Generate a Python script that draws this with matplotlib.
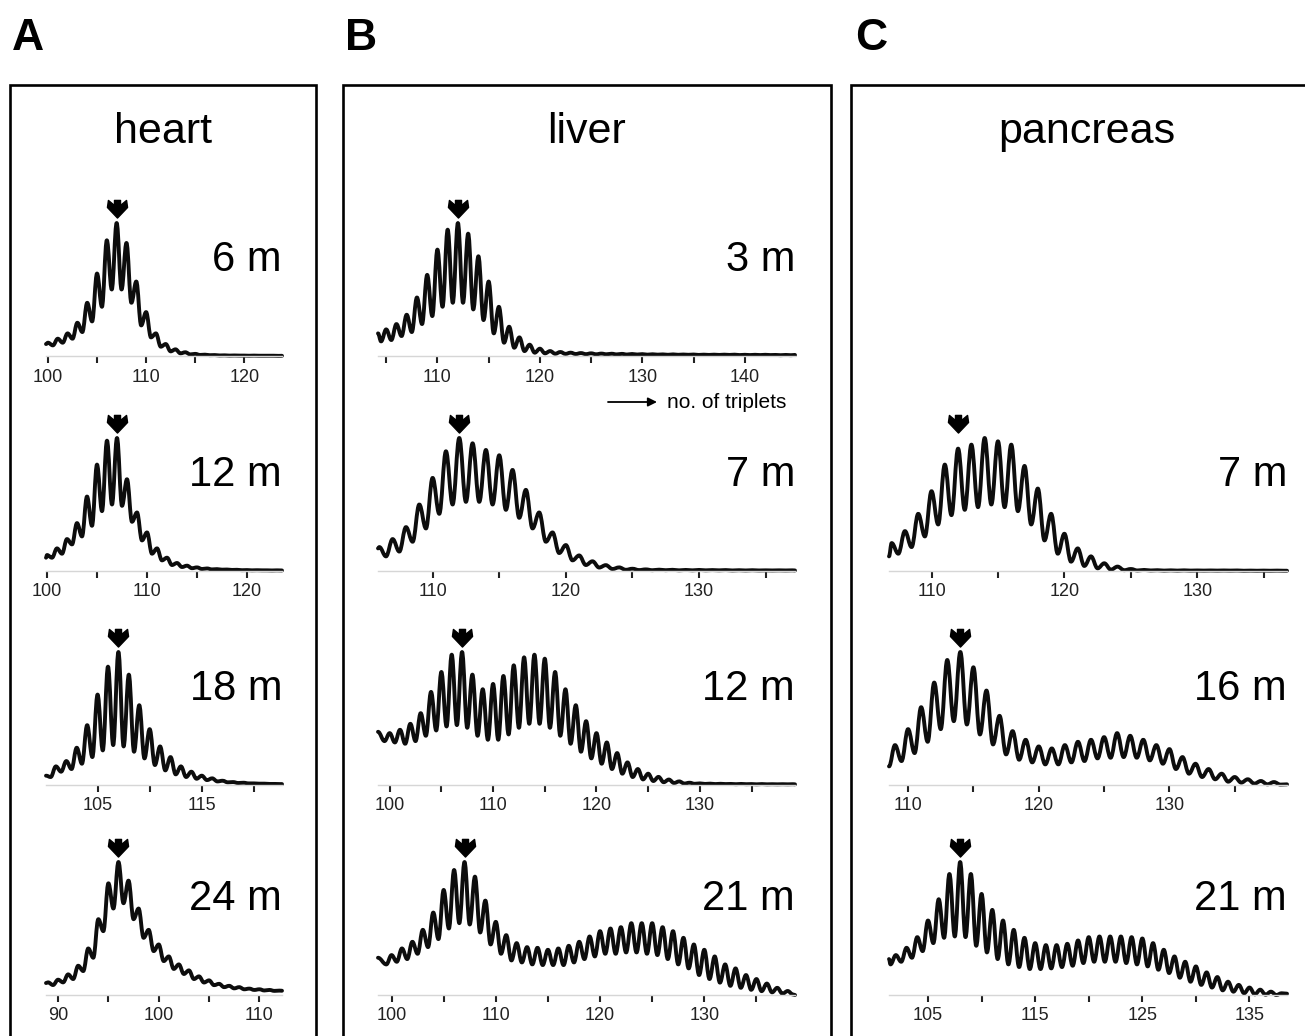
import matplotlib
matplotlib.use("Agg")
import matplotlib.pyplot as plt
from matplotlib.path import Path
from matplotlib.patches import PathPatch, Rectangle

plt.rcParams['font.family'] = ['Liberation Sans', 'DejaVu Sans']

# ---------------- data (relative peak heights) ----------------
# peaks at integer repeat numbers starting at *_P0; troughs at half-integers starting at *_P0 - 0.5
HEART_6M_P0 = 100
HEART_6M_PEAKS = [0.10, 0.13, 0.17, 0.25, 0.40, 0.62, 0.87, 1.00, 0.85, 0.56, 0.33, 0.17, 0.09, 0.05,
                  0.028, 0.016, 0.010, 0.007, 0.005, 0.004, 0.003, 0.003, 0.002, 0.002]
HEART_6M_TROUGHS = [0.07, 0.08, 0.10, 0.13, 0.18, 0.26, 0.37, 0.50, 0.50, 0.40, 0.23, 0.14, 0.07, 0.035,
                    0.020, 0.012, 0.008, 0.006, 0.004, 0.003, 0.003, 0.002, 0.002, 0.002, 0.001]

HEART_12M_P0 = 100
HEART_12M_PEAKS = [0.12, 0.17, 0.24, 0.36, 0.56, 0.80, 0.98, 1.00, 0.69, 0.44, 0.29, 0.17, 0.10, 0.06,
                   0.04, 0.027, 0.019, 0.014, 0.011, 0.009, 0.007, 0.006, 0.005, 0.005]
HEART_12M_TROUGHS = [0.09, 0.10, 0.13, 0.20, 0.26, 0.34, 0.45, 0.50, 0.49, 0.37, 0.23, 0.13, 0.08, 0.045,
                     0.030, 0.021, 0.015, 0.012, 0.010, 0.008, 0.006, 0.005, 0.005, 0.004, 0.004]

HEART_18M_P0 = 101
HEART_18M_PEAKS = [0.14, 0.18, 0.28, 0.45, 0.68, 0.89, 1.00, 0.83, 0.60, 0.42, 0.29, 0.21, 0.14, 0.10,
                   0.07, 0.05, 0.032, 0.022, 0.017, 0.012, 0.010, 0.008]
HEART_18M_TROUGHS = [0.06, 0.10, 0.12, 0.16, 0.21, 0.26, 0.30, 0.29, 0.25, 0.20, 0.15, 0.11, 0.08, 0.06,
                     0.047, 0.037, 0.027, 0.020, 0.015, 0.012, 0.010, 0.008, 0.007]

HEART_24M_P0 = 89
HEART_24M_PEAKS = [0.095, 0.115, 0.155, 0.22, 0.35, 0.57, 0.84, 1.00, 0.86, 0.65, 0.49, 0.38, 0.29, 0.23,
                   0.185, 0.14, 0.11, 0.084, 0.069, 0.059, 0.048, 0.043, 0.038, 0.033]
HEART_24M_TROUGHS = [0.08, 0.075, 0.095, 0.12, 0.18, 0.28, 0.48, 0.65, 0.69, 0.57, 0.43, 0.33, 0.255,
                     0.196, 0.158, 0.12, 0.094, 0.074, 0.059, 0.050, 0.043, 0.038, 0.034, 0.031, 0.030]

LIVER_3M_P0 = 105
LIVER_3M_PEAKS = [0.20, 0.24, 0.31, 0.44, 0.61, 0.80, 0.95, 1.00, 0.92, 0.75, 0.56, 0.37, 0.22, 0.14,
                  0.085, 0.055, 0.037, 0.030, 0.025, 0.022, 0.020, 0.018, 0.017, 0.016, 0.015, 0.014,
                  0.013, 0.012, 0.012, 0.011, 0.011, 0.010, 0.010, 0.010, 0.010, 0.009, 0.009, 0.009,
                  0.008, 0.008]
LIVER_3M_TROUGHS = [0.11, 0.12, 0.15, 0.18, 0.24, 0.30, 0.37, 0.40, 0.40, 0.35, 0.27, 0.17, 0.10, 0.062,
                    0.037, 0.025, 0.020, 0.017, 0.016, 0.015, 0.014, 0.013, 0.013, 0.012, 0.011, 0.011,
                    0.010, 0.010, 0.009, 0.009, 0.009, 0.008, 0.008, 0.008, 0.008, 0.007, 0.007, 0.007,
                    0.007, 0.006, 0.006]

LIVER_7M_P0 = 106
LIVER_7M_PEAKS = [0.18, 0.24, 0.33, 0.50, 0.70, 0.90, 1.00, 0.96, 0.91, 0.87, 0.76, 0.61, 0.44, 0.29,
                  0.195, 0.117, 0.073, 0.044, 0.027, 0.017, 0.012, 0.010, 0.009, 0.008, 0.008, 0.007,
                  0.007, 0.006, 0.006, 0.005, 0.005, 0.005]
LIVER_7M_TROUGHS = [0.12, 0.11, 0.146, 0.22, 0.32, 0.43, 0.50, 0.52, 0.52, 0.50, 0.46, 0.40, 0.32, 0.22,
                    0.135, 0.08, 0.045, 0.026, 0.015, 0.009, 0.007, 0.006, 0.006, 0.005, 0.005, 0.005,
                    0.005, 0.004, 0.004, 0.004, 0.004, 0.004, 0.004]

LIVER_12M_P0 = 100
LIVER_12M_PEAKS = [0.39, 0.415, 0.46, 0.54, 0.70, 0.85, 0.98, 1.00, 0.83, 0.72, 0.76, 0.82, 0.90, 0.96,
                   0.98, 0.95, 0.85, 0.72, 0.60, 0.48, 0.39, 0.32, 0.24, 0.17, 0.12, 0.085, 0.061, 0.041,
                   0.027, 0.017, 0.012, 0.010, 0.009, 0.008, 0.008, 0.007, 0.007, 0.006, 0.006, 0.006]
LIVER_12M_TROUGHS = [0.33, 0.32, 0.31, 0.33, 0.37, 0.41, 0.44, 0.45, 0.43, 0.37, 0.34, 0.34, 0.38, 0.43,
                     0.46, 0.46, 0.43, 0.37, 0.31, 0.25, 0.20, 0.16, 0.12, 0.085, 0.06, 0.042, 0.03,
                     0.021, 0.015, 0.011, 0.009, 0.008, 0.007, 0.007, 0.006, 0.006, 0.005, 0.005, 0.005,
                     0.005, 0.005]

LIVER_21M_P0 = 100
LIVER_21M_PEAKS = [0.30, 0.35, 0.40, 0.49, 0.62, 0.79, 0.94, 1.00, 0.89, 0.71, 0.55, 0.45, 0.39, 0.36,
                   0.355, 0.34, 0.35, 0.37, 0.40, 0.44, 0.48, 0.50, 0.51, 0.54, 0.54, 0.54, 0.51, 0.48,
                   0.43, 0.38, 0.34, 0.29, 0.23, 0.20, 0.15, 0.12, 0.086, 0.054, 0.03]
LIVER_21M_TROUGHS = [0.23, 0.25, 0.27, 0.31, 0.36, 0.42, 0.50, 0.54, 0.53, 0.47, 0.38, 0.31, 0.26, 0.245,
                     0.23, 0.225, 0.225, 0.225, 0.245, 0.27, 0.29, 0.31, 0.31, 0.32, 0.32, 0.31, 0.30,
                     0.27, 0.23, 0.20, 0.15, 0.12, 0.093, 0.069, 0.054, 0.039, 0.029, 0.02, 0.01, 0.004]

PANC_7M_P0 = 107
PANC_7M_PEAKS = [0.21, 0.30, 0.43, 0.60, 0.80, 0.92, 0.95, 1.00, 0.975, 0.95, 0.79, 0.62, 0.43, 0.28,
                 0.17, 0.11, 0.058, 0.033, 0.015, 0.008, 0.006, 0.005, 0.005, 0.004, 0.004, 0.004,
                 0.004, 0.003, 0.003, 0.003]
PANC_7M_TROUGHS = [0.10, 0.13, 0.18, 0.26, 0.35, 0.42, 0.46, 0.48, 0.50, 0.48, 0.45, 0.35, 0.23, 0.13,
                   0.07, 0.038, 0.02, 0.01, 0.006, 0.004, 0.004, 0.003, 0.003, 0.003, 0.003, 0.003,
                   0.003, 0.002, 0.002, 0.002, 0.002]

PANC_16M_P0 = 109
PANC_16M_PEAKS = [0.30, 0.42, 0.585, 0.77, 0.94, 1.00, 0.885, 0.71, 0.52, 0.405, 0.34, 0.29, 0.275, 0.30,
                  0.325, 0.34, 0.36, 0.39, 0.37, 0.34, 0.30, 0.27, 0.21, 0.16, 0.12, 0.085, 0.06, 0.043,
                  0.03, 0.022]
PANC_16M_TROUGHS = [0.15, 0.18, 0.24, 0.325, 0.42, 0.48, 0.455, 0.38, 0.305, 0.23, 0.19, 0.17, 0.155,
                    0.155, 0.17, 0.18, 0.20, 0.205, 0.21, 0.205, 0.185, 0.16, 0.12, 0.085, 0.06, 0.043,
                    0.025, 0.018, 0.01, 0.005, 0.003]

PANC_21M_P0 = 102
PANC_21M_PEAKS = [0.30, 0.355, 0.435, 0.56, 0.72, 0.91, 1.00, 0.91, 0.76, 0.64, 0.56, 0.49, 0.43, 0.39,
                  0.375, 0.375, 0.385, 0.41, 0.435, 0.44, 0.44, 0.44, 0.435, 0.425, 0.39, 0.34, 0.29,
                  0.25, 0.215, 0.17, 0.135, 0.10, 0.076, 0.056, 0.04, 0.025, 0.013]
PANC_21M_TROUGHS = [0.23, 0.25, 0.28, 0.33, 0.39, 0.43, 0.44, 0.435, 0.37, 0.32, 0.27, 0.23, 0.21, 0.195,
                    0.195, 0.20, 0.21, 0.22, 0.24, 0.25, 0.25, 0.25, 0.24, 0.23, 0.215, 0.19, 0.165,
                    0.13, 0.10, 0.076, 0.056, 0.035, 0.025, 0.013, 0.005, 0.002, 0.0, 0.0]

TISSUES = ['heart', 'liver', 'pancreas']
PANEL_LETTERS = ['A', 'B', 'C']

# label, row, p0, peaks, troughs, xlim, edge values (left, right), marked peak, ticks, labelled ticks
PANELS = {
    'heart': [
        ('6 m', 0, HEART_6M_P0, HEART_6M_PEAKS, HEART_6M_TROUGHS, (99.8, 123.85), (0.09, 0.0015), 107,
         [100, 105, 110, 115, 120], [100, 110, 120]),
        ('12 m', 1, HEART_12M_P0, HEART_12M_PEAKS, HEART_12M_TROUGHS, (99.9, 123.5), (0.10, 0.004), 107,
         [100, 105, 110, 115, 120], [100, 110, 120]),
        ('18 m', 2, HEART_18M_P0, HEART_18M_PEAKS, HEART_18M_TROUGHS, (100.05, 122.7), (0.07, 0.007), 107,
         [105, 110, 115, 120], [105, 115]),
        ('24 m', 3, HEART_24M_P0, HEART_24M_PEAKS, HEART_24M_TROUGHS, (88.8, 112.25), (0.09, 0.032), 96,
         [90, 95, 100, 105, 110], [90, 100, 110]),
    ],
    'liver': [
        ('3 m', 0, LIVER_3M_P0, LIVER_3M_PEAKS, LIVER_3M_TROUGHS, (104.2, 144.9), (0.17, 0.008), 112,
         [105, 110, 115, 120, 125, 130, 135, 140], [110, 120, 130, 140]),
        ('7 m', 1, LIVER_7M_P0, LIVER_7M_PEAKS, LIVER_7M_TROUGHS, (105.9, 137.2), (0.17, 0.004), 112,
         [110, 115, 120, 125, 130, 135], [110, 120, 130]),
        ('12 m', 2, LIVER_12M_P0, LIVER_12M_PEAKS, LIVER_12M_TROUGHS, (98.87, 139.2), (0.40, 0.005), 107,
         [100, 105, 110, 115, 120, 125, 130, 135], [100, 110, 120, 130]),
        ('21 m', 3, LIVER_21M_P0, LIVER_21M_PEAKS, LIVER_21M_TROUGHS, (98.7, 138.7), (0.28, 0.0), 107,
         [100, 105, 110, 115, 120, 125, 130, 135], [100, 110, 120, 130]),
    ],
    'pancreas': [
        ('7 m', 1, PANC_7M_P0, PANC_7M_PEAKS, PANC_7M_TROUGHS, (106.8, 136.75), (0.11, 0.002), 112,
         [110, 115, 120, 125, 130, 135], [110, 120, 130]),
        ('16 m', 2, PANC_16M_P0, PANC_16M_PEAKS, PANC_16M_TROUGHS, (108.54, 139.0), (0.14, 0.005), 114,
         [110, 115, 120, 125, 130, 135], [110, 120, 130]),
        ('21 m', 3, PANC_21M_P0, PANC_21M_PEAKS, PANC_21M_TROUGHS, (101.36, 138.5), (0.27, 0.01), 108,
         [105, 110, 115, 120, 125, 130, 135], [105, 115, 125, 135]),
    ],
}

# ---------------- layout (pixels) ----------------
W, H = 1305, 1036
fig = plt.figure(figsize=(W / 100, H / 100), dpi=100)

BOX_X = {'heart': (10, 316), 'liver': (343, 831), 'pancreas': (851, 1322)}
AX_X = {'heart': (46, 282), 'liver': (378, 795), 'pancreas': (889, 1287)}
LETTER_X = {'heart': 12, 'liver': 345, 'pancreas': 855}
ROW_BASE = [356, 571, 785, 995]
AX_H = 165
PX_PER_UNIT = 133
BOX_TOP = 85


def fx(px):
    return px / W


def fy(py):
    return 1 - py / H


def wave_path(xl, xr, yl, yr, p0, peaks, troughs):
    pts = [(p0 + i, v) for i, v in enumerate(peaks)]
    pts += [(p0 - 0.5 + i, v) for i, v in enumerate(troughs)]
    pts.sort()
    pts = [(xl, yl)] + [p for p in pts if xl < p[0] < xr] + [(xr, yr)]
    verts = [pts[0]]
    codes = [Path.MOVETO]
    for (x0, y0), (x1, y1) in zip(pts[:-1], pts[1:]):
        d = x1 - x0
        verts += [(x0 + 0.38 * d, y0), (x1 - 0.38 * d, y1), (x1, y1)]
        codes += [Path.CURVE4] * 3
    return Path(verts, codes)


ARROW = Path([(0, -0.75), (1, 0.3), (0.9, 1), (0.3, 0.5), (0.3, 1), (-0.3, 1), (-0.3, 0.5),
              (-0.9, 1), (-1, 0.3), (0, -0.75)],
             [Path.MOVETO] + [Path.LINETO] * 8 + [Path.CLOSEPOLY])

for tissue, letter in zip(TISSUES, PANEL_LETTERS):
    bx0, bx1 = BOX_X[tissue]
    fig.add_artist(Rectangle((fx(bx0), fy(H + 20)), fx(bx1 - bx0), (H + 20 - BOX_TOP) / H,
                             transform=fig.transFigure, fill=False, lw=1.9, ec='black'))
    fig.text(fx(LETTER_X[tissue]), fy(50), letter, fontsize=32, fontweight='bold', va='baseline')
    fig.text(fx((bx0 + bx1) / 2), fy(143), tissue, fontsize=31, ha='center', va='baseline')

    ax0, ax1 = AX_X[tissue]
    for (label, row, p0, peaks, troughs, xlim, edges, mark, ticks, labelled) in PANELS[tissue]:
        base = ROW_BASE[row]
        ax = fig.add_axes([fx(ax0), fy(base), fx(ax1 - ax0), AX_H / H])
        ax.set_xlim(*xlim)
        ax.set_ylim(0, AX_H / PX_PER_UNIT)
        path = wave_path(xlim[0], xlim[1], edges[0], edges[1], p0, peaks, troughs)
        ax.add_patch(PathPatch(path, fill=False, lw=2.8, ec='#0d0d0d', joinstyle='round',
                               capstyle='round', clip_on=False))
        ax.plot([mark], [1.10], marker=ARROW, markersize=14.5, color='black', ls='none',
                clip_on=False)
        ax.text(1.0, 85 / AX_H, label, transform=ax.transAxes, ha='right', va='baseline',
                fontsize=30)
        for s in ['top', 'left', 'right']:
            ax.spines[s].set_visible(False)
        ax.spines['bottom'].set_color('#d6d6d6')
        ax.spines['bottom'].set_linewidth(1.0)
        ax.set_yticks([])
        ax.set_xticks(ticks, labels=[str(t) if t in labelled else '' for t in ticks])
        ax.tick_params(axis='x', length=5, width=1.5, color='#222222', pad=4,
                       labelsize=13, labelcolor='#222222')
        ax.patch.set_visible(False)
        if tissue == 'liver' and row == 0:
            ax.annotate('', xy=(657 / W, fy(402)), xytext=(608 / W, fy(402)),
                        xycoords='figure fraction', textcoords='figure fraction',
                        arrowprops=dict(arrowstyle='-|>', color='black', lw=1.3,
                                        mutation_scale=13, shrinkA=0, shrinkB=0))
            fig.text(fx(667), fy(402), 'no. of triplets', fontsize=15, va='center', ha='left')

fig.savefig('out.png', dpi=100)
